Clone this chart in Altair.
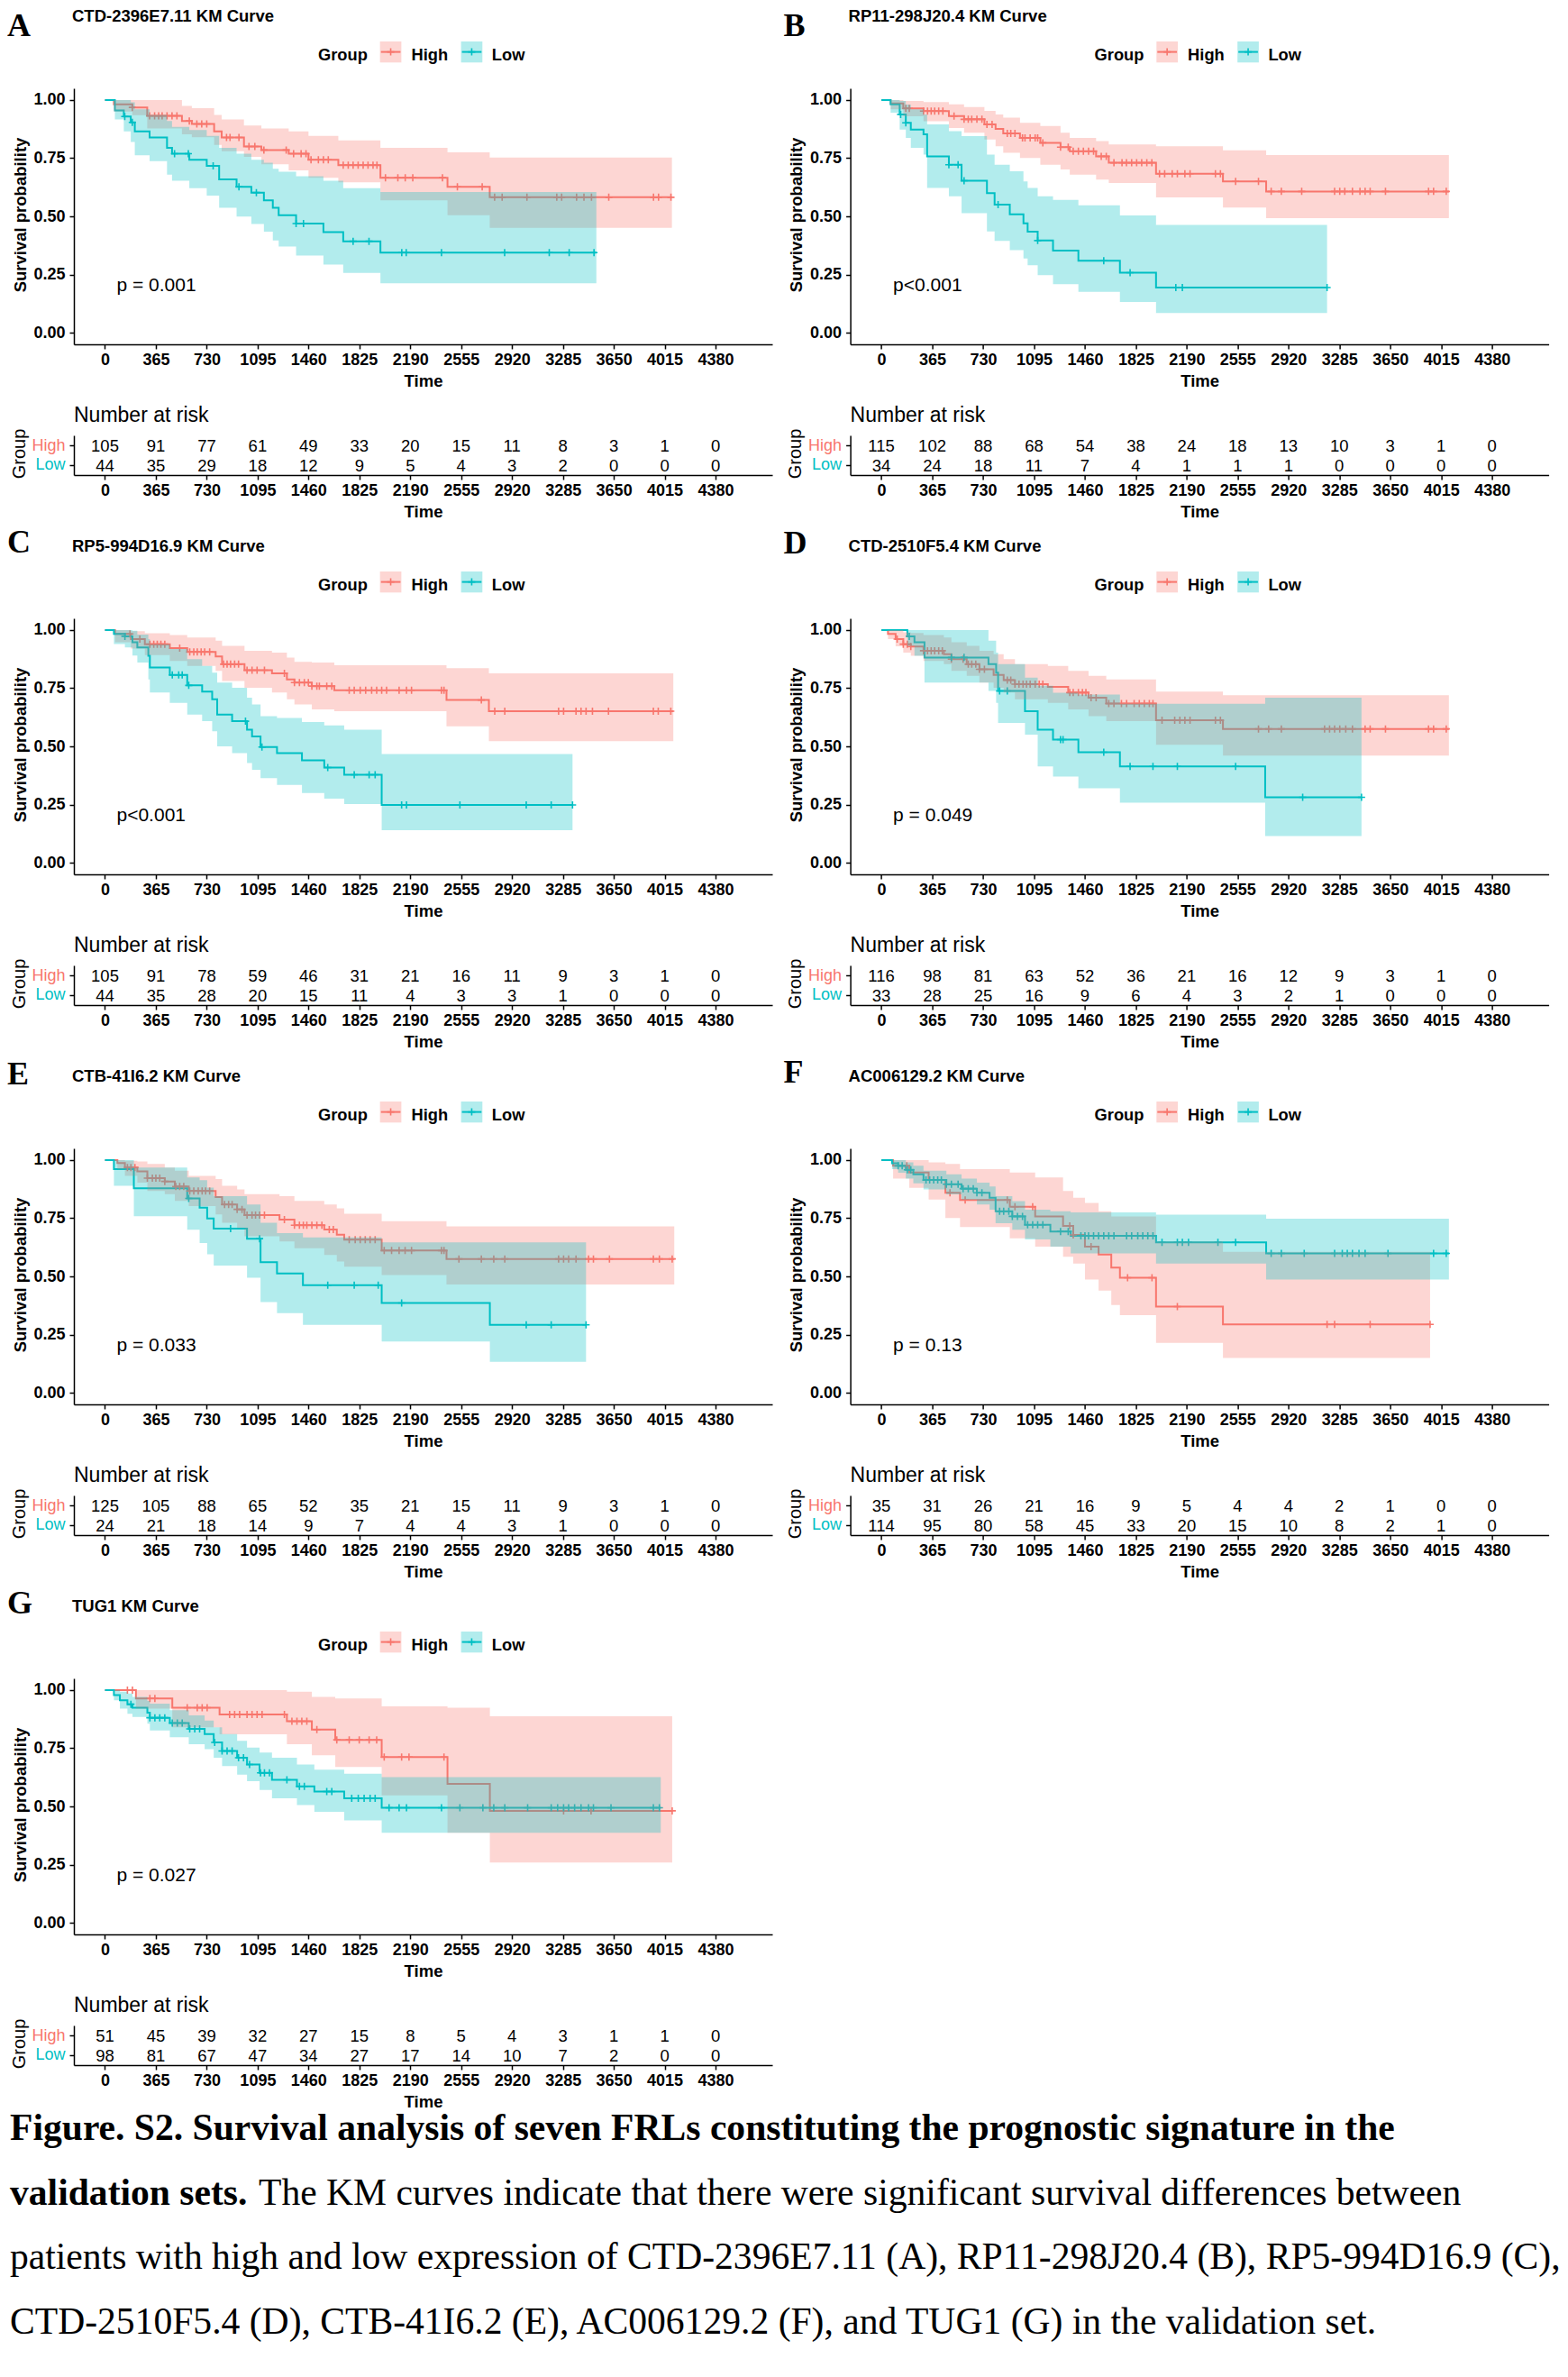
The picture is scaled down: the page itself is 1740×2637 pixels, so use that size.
import altair as alt
import pandas as pd
from bisect import bisect_right

HIGH_COL = "#F8766D"
LOW_COL = "#00BFC4"
SANS = "Liberation Sans"
SERIF = "Liberation Serif"
PLUS = "M-1,0L1,0M0,-1L0,1"

time_breaks = [0, 365, 730, 1095, 1460, 1825, 2190, 2555, 2920, 3285, 3650, 4015, 4380]

letters = ["A", "B", "C", "D", "E", "F", "G"]
titles = ["CTD-2396E7.11 KM Curve", "RP11-298J20.4 KM Curve", "RP5-994D16.9 KM Curve",
          "CTD-2510F5.4 KM Curve", "CTB-41I6.2 KM Curve", "AC006129.2 KM Curve", "TUG1 KM Curve"]
p_labels = ["p = 0.001", "p<0.001", "p<0.001", "p = 0.049", "p = 0.033", "p = 0.13", "p = 0.027"]
letter_y = [-58.5, -58.5, -73, -72.4, -71.5, -73.4, -72]

# ---------------- A: CTD-2396E7.11
a_high_time = [0, 64, 196, 303, 552, 623, 783, 837, 997, 1122, 1318, 1460, 1674, 1976, 2457, 2760]
a_high_surv = [1, .981, .968, .932, .91, .897, .865, .839, .80, .785, .769, .743, .72, .666, .627, .582]
a_high_low = [1, .95, .935, .878, .852, .84, .807, .78, .756, .724, .698, .666, .646, .569, .505, .451]
a_high_up = [1, 1, 1, 1, .974, .965, .936, .916, .89, .878, .865, .846, .826, .794, .775, .753]
a_high_end = 4067
a_high_cens = [196, 320, 356, 385, 410, 445, 481, 516, 605, 659, 694, 730, 872, 897, 961, 1033, 1075, 1140,
               1300, 1353, 1407, 1442, 1478, 1531, 1567, 1602, 1709, 1745, 1780, 1816, 1852, 1887, 1923, 1951,
               2012, 2101, 2154, 2208, 2421, 2528, 2706, 2795, 2849, 3027, 3241, 3276, 3383, 3436, 3490, 3614,
               3935, 3971, 4060]
a_low_time = [0, 71, 135, 185, 214, 320, 445, 481, 605, 730, 819, 944, 1050, 1140, 1204, 1246, 1371, 1567, 1709, 1976]
a_low_surv = [1, .955, .929, .904, .865, .839, .794, .769, .743, .717, .659, .627, .602, .569, .537, .505, .469, .432, .393, .344]
a_low_low = [1, .916, .865, .82, .762, .737, .679, .653, .621, .589, .537, .499, .467, .434, .396, .37, .332, .293, .257, .212]
a_low_up = [1, 1, 1, .99, .96, .936, .91, .884, .871, .846, .794, .769, .743, .73, .704, .692, .672, .653, .621, .605]
a_low_end = 3525
a_low_cens = [142, 196, 499, 598, 776, 961, 1086, 1371, 1424, 1780, 1894, 2129, 2161, 2414, 2867, 3187, 3330, 3508]
a_risk_high = [105, 91, 77, 61, 49, 33, 20, 15, 11, 8, 3, 1, 0]
a_risk_low = [44, 35, 29, 18, 12, 9, 5, 4, 3, 2, 0, 0, 0]

# ---------------- B: RP11-298J20.4
b_high_time = [0, 66, 157, 302, 484, 593, 739, 819, 874, 994, 1140, 1285, 1351, 1540, 1631, 1970, 2450, 2760]
b_high_surv = [1, .985, .964, .952, .931, .917, .895, .876, .856, .837, .816, .797, .78, .758, .73, .683, .65, .607]
b_high_low = [1, .96, .93, .909, .88, .859, .83, .801, .773, .751, .722, .701, .679, .658, .643, .581, .538, .492]
b_high_up = [1, 1, .996, .991, .981, .97, .953, .938, .924, .902, .888, .859, .837, .823, .809, .801, .784, .763]
b_high_end = 4071
b_high_cens = [175, 200, 302, 331, 357, 382, 411, 441, 521, 593, 623, 648, 685, 721, 757, 794, 903, 928, 958,
               1012, 1030, 1067, 1103, 1121, 1158, 1285, 1340, 1376, 1413, 1449, 1486, 1522, 1577, 1613, 1668,
               1726, 1758, 1795, 1831, 1867, 1904, 1940, 1995, 2032, 2086, 2123, 2177, 2214, 2396, 2432, 2541,
               2705, 2796, 2869, 3015, 3251, 3288, 3324, 3379, 3433, 3470, 3506, 3616, 3925, 3961, 4052]
b_low_time = [0, 66, 131, 175, 211, 302, 328, 484, 575, 757, 812, 921, 1019, 1049, 1121, 1231, 1413, 1711, 1970]
b_low_surv = [1, .981, .938, .902, .873, .852, .758, .722, .653, .60, .55, .509, .47, .434, .396, .353, .309, .258, .194]
b_low_low = [1, .945, .873, .837, .794, .765, .622, .586, .514, .435, .394, .355, .319, .29, .247, .209, .176, .132, .085]
b_low_up = [1, 1, .996, .98, .96, .938, .895, .866, .845, .765, .722, .694, .65, .622, .586, .571, .547, .504, .463]
b_low_end = 3197
b_low_cens = [138, 175, 484, 550, 593, 837, 1121, 1595, 1784, 2112, 2159, 3197]
b_risk_high = [115, 102, 88, 68, 54, 38, 24, 18, 13, 10, 3, 1, 0]
b_risk_low = [34, 24, 18, 11, 7, 4, 1, 1, 1, 0, 0, 0, 0]

# ---------------- C: RP5-994D16.9
c_high_time = [0, 72, 186, 286, 465, 590, 794, 840, 1001, 1198, 1305, 1359, 1484, 1645, 2450, 2754]
c_high_surv = [1, .983, .961, .939, .922, .906, .886, .853, .827, .814, .788, .774, .759, .741, .699, .651]
c_high_low = [1, .947, .92, .892, .867, .846, .824, .781, .752, .731, .702, .68, .659, .651, .586, .522]
c_high_up = [1, 1, .995, .986, .978, .968, .954, .932, .911, .903, .882, .863, .86, .849, .836, .814]
c_high_end = 4077
c_high_cens = [179, 250, 322, 350, 375, 401, 429, 536, 608, 637, 662, 690, 715, 751, 851, 876, 901, 930, 958,
               1019, 1055, 1091, 1144, 1287, 1359, 1395, 1430, 1459, 1484, 1520, 1538, 1591, 1627, 1752, 1788,
               1831, 1870, 1913, 1949, 1985, 2020, 2110, 2163, 2199, 2414, 2432, 2700, 2796, 2868, 3254, 3290,
               3379, 3415, 3451, 3497, 3612, 3934, 3969, 4059]
c_low_time = [0, 64, 143, 197, 232, 311, 322, 465, 590, 697, 769, 805, 912, 1019, 1055, 1116, 1234, 1413, 1573, 1716, 1985]
c_low_surv = [1, .983, .973, .947, .925, .889, .839, .807, .762, .735, .702, .637, .608, .572, .543, .497, .471, .44, .409, .378, .248]
c_low_low = [1, .94, .925, .89, .86, .788, .731, .687, .637, .608, .565, .50, .471, .428, .399, .363, .334, .30, .275, .252, .14]
c_low_up = [1, 1, 1, .997, .98, .961, .939, .918, .875, .846, .817, .774, .752, .709, .68, .63, .622, .605, .59, .572, .467]
c_low_end = 3354
c_low_cens = [143, 483, 529, 554, 601, 1008, 1126, 1598, 1788, 1895, 1938, 2128, 2163, 2546, 3022, 3201, 3354]
c_risk_high = [105, 91, 78, 59, 46, 31, 21, 16, 11, 9, 3, 1, 0]
c_risk_low = [44, 35, 28, 20, 15, 11, 4, 3, 3, 1, 0, 0, 0]

# ---------------- D: CTD-2510F5.4
d_high_time = [0, 47, 102, 157, 211, 302, 448, 502, 612, 703, 805, 877, 958, 1194, 1340, 1486, 1613, 1970, 2450]
d_high_surv = [1, .983, .961, .939, .929, .911, .896, .875, .853, .831, .807, .785, .767, .756, .731, .709, .684, .612, .575]
d_high_low = [1, .961, .93, .903, .889, .867, .853, .824, .803, .774, .752, .731, .702, .687, .659, .63, .608, .507, .46]
d_high_up = [1, 1, 1, .99, .987, .978, .968, .947, .932, .911, .896, .875, .853, .846, .824, .803, .788, .735, .72]
d_high_end = 4071
d_high_cens = [113, 157, 186, 211, 302, 331, 357, 382, 411, 437, 502, 586, 623, 648, 677, 703, 739, 903, 928,
               958, 987, 1016, 1041, 1067, 1103, 1132, 1158, 1351, 1376, 1413, 1442, 1467, 1504, 1540, 1631,
               1668, 1722, 1759, 1813, 1850, 1886, 1922, 1948, 2013, 2104, 2141, 2177, 2214, 2396, 2432, 2705,
               2778, 2869, 3179, 3215, 3251, 3288, 3331, 3379, 3470, 3506, 3616, 3925, 3961, 4052]
d_low_time = [0, 186, 237, 309, 768, 823, 837, 1030, 1121, 1231, 1413, 1711, 2753]
d_low_surv = [1, .973, .947, .882, .853, .817, .738, .651, .572, .529, .475, .414, .281]
d_low_low = [1, .932, .889, .774, .738, .687, .601, .55, .414, .37, .32, .258, .115]
d_low_up = [1, 1, 1, 1, .954, .903, .853, .795, .76, .73, .723, .683, .709]
d_low_end = 3444
d_low_cens = [200, 502, 593, 848, 903, 1285, 1303, 1595, 1784, 1948, 2123, 2541, 3022, 3444]
d_risk_high = [116, 98, 81, 63, 52, 36, 21, 16, 12, 9, 3, 1, 0]
d_risk_low = [33, 28, 25, 16, 9, 6, 4, 3, 2, 1, 0, 0, 0]

# ---------------- E: CTB-41I6.2
e_high_time = [0, 89, 143, 232, 304, 429, 501, 601, 794, 840, 948, 1001, 1252, 1359, 1573, 1663, 1716, 1985, 2450]
e_high_surv = [1, .987, .968, .951, .922, .908, .886, .867, .841, .809, .788, .763, .744, .72, .701, .679, .658, .611, .575]
e_high_low = [1, .96, .932, .903, .867, .853, .824, .802, .766, .73, .708, .672, .65, .621, .592, .564, .542, .506, .465]
e_high_up = [1, 1, .997, .994, .983, .968, .954, .932, .918, .889, .874, .853, .845, .824, .809, .792, .769, .737, .715]
e_high_end = 4084
e_high_cens = [161, 186, 215, 304, 340, 365, 393, 429, 508, 536, 565, 608, 637, 669, 697, 722, 751, 858, 887,
               912, 948, 983, 1019, 1055, 1080, 1109, 1144, 1287, 1359, 1395, 1423, 1448, 1484, 1520, 1556,
               1609, 1638, 1752, 1795, 1831, 1867, 1902, 1938, 2003, 2056, 2110, 2153, 2199, 2414, 2432, 2539,
               2700, 2789, 2868, 3254, 3290, 3326, 3379, 3469, 3504, 3619, 3934, 3977, 4069]
e_low_time = [0, 64, 207, 590, 679, 733, 780, 1019, 1116, 1234, 1420, 1985, 2761]
e_low_surv = [1, .961, .879, .835, .795, .749, .705, .662, .561, .513, .462, .386, .292]
e_low_low = [1, .889, .759, .70, .643, .595, .546, .494, .39, .342, .292, .22, .133]
e_low_up = [1, 1, .968, .925, .913, .882, .845, .809, .73, .686, .668, .646, .646]
e_low_end = 3451
e_low_cens = [601, 901, 1109, 1598, 1788, 1960, 2128, 3022, 3201, 3451]
e_risk_high = [125, 105, 88, 65, 52, 35, 21, 15, 11, 9, 3, 1, 0]
e_risk_low = [24, 21, 18, 14, 9, 7, 4, 4, 3, 1, 0, 0, 0]

# ---------------- F: AC006129.2
f_high_time = [0, 84, 200, 339, 459, 564, 921, 1103, 1303, 1376, 1460, 1558, 1649, 1711, 1970, 2450]
f_high_surv = [1, .975, .946, .914, .859, .828, .799, .758, .717, .678, .628, .594, .538, .494, .37, .294]
f_high_low = [1, .92, .881, .83, .751, .712, .664, .628, .584, .555, .486, .439, .377, .333, .214, .149]
f_high_up = [1, 1, 1, .99, .983, .961, .946, .925, .867, .838, .816, .78, .758, .758, .65, .606]
f_high_end = 3936
f_high_cens = [182, 492, 601, 903, 958, 1085, 1351, 1376, 1504, 1766, 1941, 2123, 3197, 3251, 3506, 3936]
f_low_time = [0, 76, 120, 175, 229, 302, 466, 575, 685, 776, 819, 939, 1030, 1212, 1358, 1970, 2760]
f_low_surv = [1, .986, .975, .958, .939, .914, .896, .877, .859, .838, .78, .758, .722, .693, .674, .646, .599]
f_low_low = [1, .961, .945, .92, .90, .874, .852, .83, .809, .787, .729, .70, .659, .628, .599, .555, .486]
f_low_up = [1, 1, 1, .99, .975, .954, .939, .92, .903, .886, .845, .823, .787, .78, .775, .765, .748]
f_low_end = 4071
f_low_cens = [120, 149, 186, 211, 320, 346, 375, 404, 430, 466, 502, 550, 586, 623, 659, 685, 721, 848, 877,
              914, 939, 976, 1012, 1049, 1085, 1121, 1158, 1285, 1340, 1431, 1460, 1486, 1522, 1558, 1595,
              1631, 1668, 1759, 1795, 1839, 1875, 1911, 1948, 2013, 2123, 2159, 2203, 2414, 2541, 2796, 2869,
              3033, 3251, 3306, 3342, 3379, 3426, 3470, 3634, 3961, 4052]
f_risk_high = [35, 31, 26, 21, 16, 9, 5, 4, 4, 2, 1, 0, 0]
f_risk_low = [114, 95, 80, 58, 45, 33, 20, 15, 10, 8, 2, 1, 0]

# ---------------- G: TUG1
g_high_time = [0, 222, 483, 822, 1305, 1484, 1652, 1985, 2457, 2761]
g_high_surv = [1, .964, .924, .895, .866, .83, .786, .712, .597, .481]
g_high_low = [1, .92, .84, .81, .767, .72, .669, .547, .387, .259]
g_high_up = [1, 1, 1, 1, .993, .971, .964, .93, .924, .887]
g_high_end = 4069
g_high_cens = [161, 197, 322, 358, 590, 662, 697, 733, 894, 930, 966, 1019, 1055, 1091, 1127, 1287, 1341,
               1377, 1412, 1448, 1520, 1663, 1752, 1824, 1895, 1949, 2003, 2128, 2181, 2432, 3290, 3487, 4069]
g_low_time = [0, 64, 107, 161, 197, 304, 322, 465, 601, 715, 780, 840, 948, 1019, 1109, 1198, 1377, 1502, 1716, 1985]
g_low_surv = [1, .978, .956, .939, .924, .903, .881, .858, .833, .811, .775, .738, .709, .68, .644, .614, .586, .564, .535, .494]
g_low_low = [1, .956, .92, .898, .884, .855, .826, .797, .767, .746, .709, .673, .637, .608, .571, .535, .506, .477, .44, .387]
g_low_up = [1, 1, .993, .985, .971, .953, .942, .913, .891, .869, .84, .811, .782, .753, .731, .709, .68, .658, .64, .626]
g_low_end = 3987
g_low_cens = [186, 322, 358, 393, 429, 483, 519, 554, 608, 644, 679, 787, 840, 876, 912, 958, 994, 1037, 1116,
              1144, 1180, 1305, 1395, 1430, 1591, 1627, 1770, 1817, 1859, 1902, 1938, 2038, 2110, 2163, 2414,
              2546, 2711, 2789, 2868, 3032, 3201, 3247, 3290, 3326, 3369, 3415, 3469, 3504, 3630, 3934, 3977]
g_risk_high = [51, 45, 39, 32, 27, 15, 8, 5, 4, 3, 1, 1, 0]
g_risk_low = [98, 81, 67, 47, 34, 27, 17, 14, 10, 7, 2, 0, 0]

caption_bold = ["Figure. S2. Survival analysis of seven FRLs constituting the prognostic signature in the",
                "validation sets.", "", ""]
caption_plain = ["",
                 "The KM curves indicate that there were significant survival differences between",
                 "patients with high and low expression of CTD-2396E7.11 (A), RP11-298J20.4 (B), RP5-994D16.9 (C),",
                 "CTD-2510F5.4 (D), CTB-41I6.2 (E), AC006129.2 (F), and TUG1 (G) in the validation set."]

curves = {
    "A": ((a_high_time, a_high_surv, a_high_low, a_high_up, a_high_end, a_high_cens),
          (a_low_time, a_low_surv, a_low_low, a_low_up, a_low_end, a_low_cens), a_risk_high, a_risk_low),
    "B": ((b_high_time, b_high_surv, b_high_low, b_high_up, b_high_end, b_high_cens),
          (b_low_time, b_low_surv, b_low_low, b_low_up, b_low_end, b_low_cens), b_risk_high, b_risk_low),
    "C": ((c_high_time, c_high_surv, c_high_low, c_high_up, c_high_end, c_high_cens),
          (c_low_time, c_low_surv, c_low_low, c_low_up, c_low_end, c_low_cens), c_risk_high, c_risk_low),
    "D": ((d_high_time, d_high_surv, d_high_low, d_high_up, d_high_end, d_high_cens),
          (d_low_time, d_low_surv, d_low_low, d_low_up, d_low_end, d_low_cens), d_risk_high, d_risk_low),
    "E": ((e_high_time, e_high_surv, e_high_low, e_high_up, e_high_end, e_high_cens),
          (e_low_time, e_low_surv, e_low_low, e_low_up, e_low_end, e_low_cens), e_risk_high, e_risk_low),
    "F": ((f_high_time, f_high_surv, f_high_low, f_high_up, f_high_end, f_high_cens),
          (f_low_time, f_low_surv, f_low_low, f_low_up, f_low_end, f_low_cens), f_risk_high, f_risk_low),
    "G": ((g_high_time, g_high_surv, g_high_low, g_high_up, g_high_end, g_high_cens),
          (g_low_time, g_low_surv, g_low_low, g_low_up, g_low_end, g_low_cens), g_risk_high, g_risk_low),
}

# ---------------------------------------------------------------- layout sizes
W, H_SURV, H_RISK = 775, 284, 44
GAP1, GAP2 = 101, 158.7
dummy = pd.DataFrame({"k": [0]})

x_scale = alt.Scale(domain=[-223, 4787], nice=False, zero=False)
y_scale = alt.Scale(domain=[-0.05, 1.05], nice=False, zero=False)
col_scale = alt.Scale(domain=["High", "Low"], range=[HIGH_COL, LOW_COL])

x_axis = alt.Axis(values=time_breaks, format="d", title="Time", labelFontWeight="bold", labelFontSize=18,
                  labelPadding=3, labelOverlap=False, titleFontWeight="bold", titleFontSize=18.5,
                  titleY=31, titleBaseline="top")
y_axis = alt.Axis(values=[0, 0.25, 0.5, 0.75, 1], format=".2f", title="Survival probability",
                  labelFontWeight="bold", labelFontSize=18, labelPadding=5, titleFontWeight="bold",
                  titleFontSize=18.5, titleX=-60, titleY=140, titleAngle=270, titleBaseline="middle",
                  titleAlign="center")


def X(field="time"):
    return alt.X(f"{field}:Q", scale=x_scale, axis=x_axis)


def Y(field="surv"):
    return alt.Y(f"{field}:Q", scale=y_scale, axis=y_axis)


COLOR = alt.Color("group:N", scale=col_scale, legend=None)


def step_frame(c, grp):
    t, s, lo, hi, end, _ = c
    return pd.DataFrame({"time": t + [end], "surv": s + [s[-1]], "lo": lo + [lo[-1]],
                         "hi": hi + [hi[-1]], "group": grp})


def censor_frame(c, grp):
    t, s, _, _, _, cens = c
    return pd.DataFrame({"time": cens, "surv": [s[bisect_right(t, v) - 1] for v in cens], "group": grp})


def text_at(text, x, y, size, weight="normal", font=SANS, color="black"):
    return alt.Chart(dummy).mark_text(text=text, font=font, fontSize=size, fontWeight=weight, color=color,
                                      align="left", baseline="alphabetic").encode(
        x=alt.value(x), y=alt.value(y))


def legend_key(x0, color):
    box = alt.Chart(dummy).mark_rect(color=color, opacity=0.3).encode(
        x=alt.value(x0), x2=alt.value(x0 + 23.7), y=alt.value(-52), y2=alt.value(-28.7))
    line = alt.Chart(dummy).mark_rule(color=color, strokeWidth=2).encode(
        x=alt.value(x0 + 1), x2=alt.value(x0 + 22.7), y=alt.value(-40.4))
    plus = alt.Chart(dummy).mark_point(shape=PLUS, size=64, filled=False, color=color, strokeWidth=1.6,
                                       opacity=1).encode(x=alt.value(x0 + 11.85), y=alt.value(-40.4))
    return [box, line, plus]


def surv_chart(i):
    key = letters[i]
    high, low, _, _ = curves[key]
    steps = pd.concat([step_frame(high, "High"), step_frame(low, "Low")])
    cens = pd.concat([censor_frame(high, "High"), censor_frame(low, "Low")])
    lines = alt.Chart(steps).mark_line(interpolate="step-after", strokeWidth=2).encode(
        x=X(), y=Y(), color=COLOR)
    crosses = alt.Chart(cens).mark_point(shape=PLUS, size=64, filled=False, strokeWidth=1.6, opacity=1).encode(
        x=X(), y=Y(), color=COLOR)
    bands = alt.Chart(steps).mark_area(interpolate="step-after", opacity=0.3).encode(
        x=X(), y=Y("lo"), y2="hi:Q", color=COLOR)
    pv = alt.Chart(pd.DataFrame({"time": [84], "surv": [0.2], "label": [p_labels[i]]})).mark_text(
        font=SANS, fontSize=21, align="left", baseline="middle", color="black").encode(
        x=X(), y=Y(), text="label:N")
    layers = [lines, crosses, bands, pv,
              text_at(key, -74, letter_y[i], 36, "bold", SERIF),
              text_at(titles[i], -2, -74.5, 18.5, "bold"),
              text_at("Group", 271, -31.3, 18.3, "bold"),
              text_at("High", 374.5, -31.3, 18.3, "bold"),
              text_at("Low", 463.8, -31.3, 18.3, "bold")]
    layers += legend_key(339.7, HIGH_COL) + legend_key(429.6, LOW_COL)
    return alt.layer(*layers).properties(width=W, height=H_SURV)


def risk_chart(i):
    _, _, rh, rl = curves[letters[i]]
    df = pd.DataFrame({"time": time_breaks * 2, "group": ["High"] * 13 + ["Low"] * 13, "n": rh + rl})
    y = alt.Y("group:N", scale=alt.Scale(type="point", domain=["High", "Low"], padding=0.5476),
              axis=alt.Axis(title="Group", labelFontSize=18, labelFontWeight="normal", labelPadding=5,
                            labelColor={"condition": {"test": "datum.value === 'High'", "value": HIGH_COL},
                                        "value": LOW_COL},
                            titleFontWeight="normal", titleFontSize=20, titleX=-61, titleY=20,
                            titleAngle=270, titleBaseline="middle", titleAlign="center"))
    nums = alt.Chart(df).mark_text(font=SANS, fontSize=18.5, baseline="middle", dy=1, color="black").encode(
        x=X(), y=y, text="n:Q")
    head = text_at("Number at risk", 0, -14.7, 23)
    return alt.layer(nums, head).properties(width=W, height=H_RISK)


def spacer(h):
    return alt.Chart(dummy).mark_point(opacity=0).encode(x=alt.value(0), y=alt.value(0)).properties(
        width=W, height=h)


def caption_chart():
    df = pd.DataFrame({"line": [0, 1, 2, 3], "bold": caption_bold, "plain": caption_plain})
    cy = alt.Y("line:Q", scale=alt.Scale(domain=[0, 3], range=[83, 298]), axis=None)
    style = dict(font=SERIF, fontSize=41.6, align="left", baseline="alphabetic", color="black")
    bold = alt.Chart(df).transform_filter("datum.bold != ''").mark_text(fontWeight="bold", **style).encode(
        x=alt.value(-71), y=cy, text="bold:N")
    plain1 = alt.Chart(df).transform_filter("datum.line == 1").mark_text(**style).encode(
        x=alt.value(205), y=cy, text="plain:N")
    plain2 = alt.Chart(df).transform_filter("datum.line >= 2").mark_text(**style).encode(
        x=alt.value(-71), y=cy, text="plain:N")
    return alt.layer(bold, plain1, plain2).properties(width=W, height=300)


cells = []
for left, right in [(0, 1), (2, 3), (4, 5), (6, None)]:
    cells += [surv_chart(left), surv_chart(right) if right is not None else spacer(1)]
    cells += [spacer(GAP1), spacer(GAP1)]
    cells += [risk_chart(left), risk_chart(right) if right is not None else spacer(1)]
    if right is not None:
        cells += [spacer(GAP2), spacer(GAP2)]
cells.append(caption_chart())

chart = alt.concat(*cells, columns=2, spacing={"row": 0, "column": 86.6}, bounds="flush", align="each").properties(
    autosize=alt.AutoSizeParams(type="none"),
    padding={"left": 74, "top": 90, "right": 1650, "bottom": 2531},
).configure_view(stroke=None).configure_axis(
    domainColor="black", domainWidth=1.5, tickColor="black", tickWidth=1.5, tickSize=5,
    labelColor="black", labelFont=SANS, titleFont=SANS, titleColor="black", grid=False)

chart.save("out.html", embed_options={"renderer": "svg", "actions": False})
